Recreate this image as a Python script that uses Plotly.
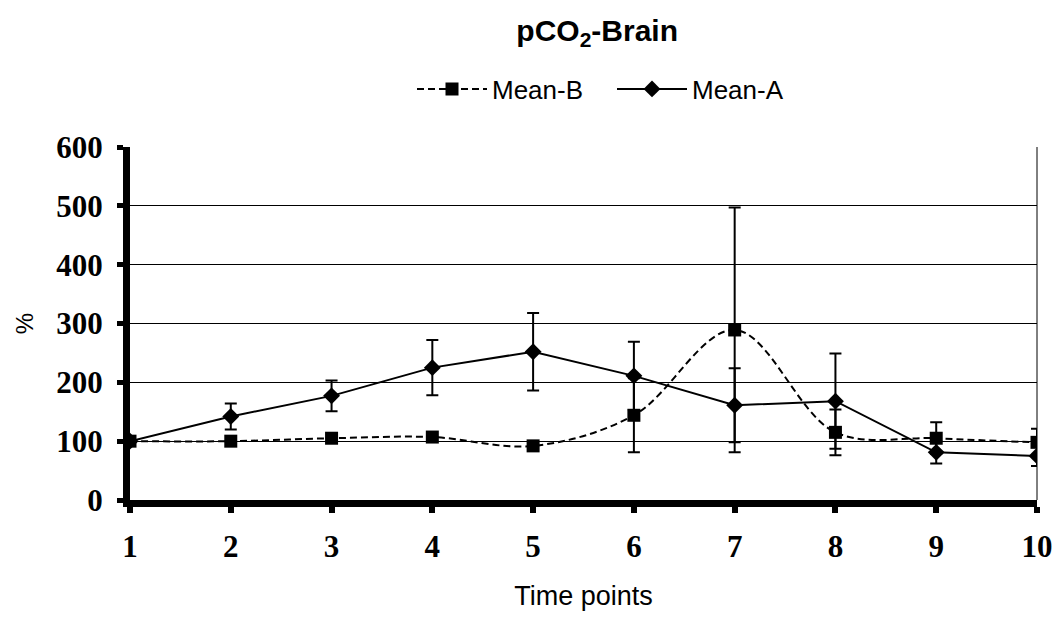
import plotly.graph_objects as go

time_points = [1, 2, 3, 4, 5, 6, 7, 8, 9, 10]
mean_b = [100, 100, 105, 107, 92, 144, 289, 115, 105, 98]
err_b = [0, 0, 0, 0, 0, 63, 208, 39, 27, 23]
mean_a = [100, 142, 177, 225, 252, 211, 161, 168, 81, 75]
err_a = [0, 22, 26, 47, 66, 58, 63, 81, 19, 17]
y_ticks = [0, 100, 200, 300, 400, 500, 600]

SANS = "Liberation Sans, Arial, sans-serif"
SERIF = "Liberation Serif, Times New Roman, serif"

fig = go.Figure()
fig.add_trace(go.Scatter(
    x=time_points, y=mean_a, name="Mean-A", mode="lines+markers",
    line=dict(color="black", width=2),
    marker=dict(symbol="diamond", size=13, color="black"),
    error_y=dict(type="data", array=err_a, visible=True, color="black", thickness=2, width=6),
    legendrank=2,
))
fig.add_trace(go.Scatter(
    x=time_points, y=mean_b, name="Mean-B", mode="lines+markers",
    line=dict(color="black", width=2, dash="7px,4px", shape="spline", smoothing=1),
    marker=dict(symbol="square", size=13, color="black"),
    error_y=dict(type="data", array=err_b, visible=True, color="black", thickness=2, width=6),
    legendrank=1,
))

fig.update_layout(
    width=1057, height=617,
    margin=dict(l=130, r=20, t=147, b=117, autoexpand=False),
    paper_bgcolor="white", plot_bgcolor="white",
    showlegend=True,
    title=dict(text="<b>pCO<sub>2</sub>-Brain</b>", x=0.565, xanchor="center",
               y=1 - 30 / 617, yanchor="middle", xref="container", yref="container",
               font=dict(family=SANS, size=30, color="black")),
    legend=dict(orientation="h", xref="container", yref="container",
                x=412 / 1057, xanchor="left", y=1 - 89 / 617, yanchor="middle",
                font=dict(family=SANS, size=26, color="black"),
                itemwidth=70, entrywidth=115, entrywidthmode="pixels",
                tracegroupgap=0, bgcolor="rgba(0,0,0,0)"),
    xaxis=dict(range=[1, 10], tickmode="array", tickvals=time_points, automargin=False,
               showline=True, linecolor="black", linewidth=7,
               ticks="outside", ticklen=6, tickwidth=6, tickcolor="black",
               showgrid=False, zeroline=False,
               tickfont=dict(family=SERIF, size=31, color="black", weight="bold"),
               ticklabelstandoff=7,
               title=dict(text="Time points", font=dict(family=SANS, size=27, color="black"), standoff=25)),
    yaxis=dict(range=[0, 600], tickmode="array", tickvals=y_ticks, automargin=False,
               showline=True, linecolor="black", linewidth=7,
               ticks="outside", ticklen=6, tickwidth=5, tickcolor="black",
               showgrid=True, gridcolor="black", gridwidth=1, zeroline=False,
               tickfont=dict(family=SERIF, size=31, color="black", weight="bold"),
               ticklabelstandoff=8,
               title=dict(text="%", font=dict(family=SANS, size=24, color="black"), standoff=18)),
    shapes=[dict(type="line", xref="paper", yref="paper", x0=1, x1=1, y0=0, y1=1,
                 line=dict(color="black", width=1))],
)

fig.write_html("out.html")
